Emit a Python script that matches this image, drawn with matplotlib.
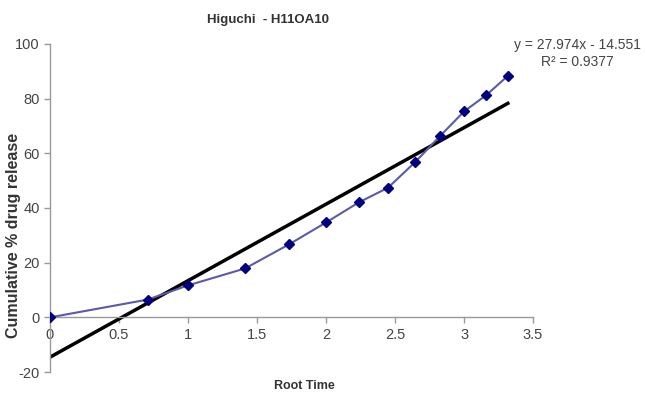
import numpy as np
import matplotlib
matplotlib.use("Agg")
import matplotlib.pyplot as plt

plt.rcParams['font.family'] = ['Liberation Sans', 'DejaVu Sans']
plt.rcParams['axes.unicode_minus'] = False

root_time = [0, 0.707, 1.0, 1.414, 1.732, 2.0, 2.236, 2.449, 2.646, 2.828, 3.0, 3.162, 3.317]
release = [0, 6.5, 11.7, 17.9, 26.7, 34.7, 42.0, 47.4, 56.8, 66.4, 75.3, 81.3, 88.3]
slope = 27.974
intercept = -14.551
eq_text = "y = 27.974x - 14.551"
r2_text = "R² = 0.9377"
title = "Higuchi  - H11OA10"
xlabel = "Root Time"
ylabel = "Cumulative % drug release"
xticks = [0, 0.5, 1, 1.5, 2, 2.5, 3, 3.5]
yticks = [-20, 0, 20, 40, 60, 80, 100]

fig = plt.figure(figsize=(6.45, 3.95), dpi=100)
ax = fig.add_axes([0.0775, 0.058, 0.749, 0.831])

ax.plot(root_time, release, color='#5a5aa8', lw=1.5, marker='D', ms=5,
        mfc='#000080', mec='#000080', zorder=3)
xt = np.array([root_time[0], root_time[-1]])
ax.plot(xt, slope * xt + intercept, color='black', lw=2.5, zorder=2)

ax.set_xlim(0, 3.5)
ax.set_ylim(-20, 100)
ax.set_xticks(xticks)
ax.set_xticklabels([f"{t:g}" for t in xticks])
ax.set_yticks(yticks)
for s in ['top', 'right']:
    ax.spines[s].set_visible(False)
ax.spines['bottom'].set_position(('data', 0))
for s in ['left', 'bottom']:
    ax.spines[s].set_color('#999999')
    ax.spines[s].set_linewidth(1.0)
ax.tick_params(axis='both', colors='#999999', labelcolor='#444444', labelsize=10.5, length=4, width=1)
ax.tick_params(axis='x', pad=4)

fig.text(268/645, 1 - 20/395, title, ha='center', va='center', fontsize=9.5, fontweight='bold', color='#333333')
fig.text(304/645, 1 - 386/395, xlabel, ha='center', va='center', fontsize=9, fontweight='bold', color='#333333')
fig.text(14/645, 1 - 235/395, ylabel, ha='center', va='center', rotation=90, fontsize=11.5,
         fontweight='bold', color='#333333')
fig.text(577/645, 1 - 45/395, eq_text, ha='center', va='center', fontsize=10, color='#444444')
fig.text(577/645, 1 - 62/395, r2_text, ha='center', va='center', fontsize=10, color='#444444')

fig.savefig('out.png', dpi=100)
